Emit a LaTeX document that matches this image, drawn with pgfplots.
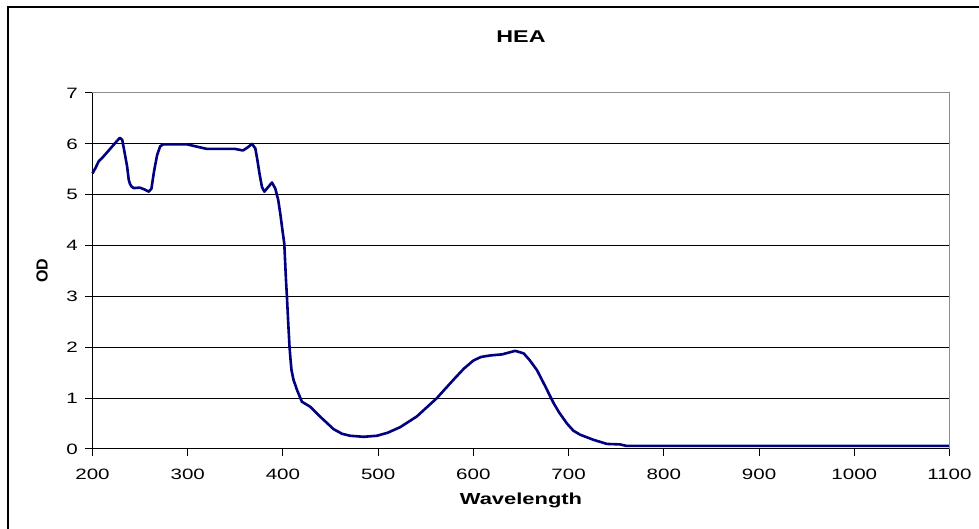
\documentclass[border=0pt]{standalone}
\usepackage{fontspec}
\setmainfont{Liberation Sans}[FakeStretch=1.37]
\newfontfamily\plainfont{Liberation Sans}
\usepackage{pgfplots}
\pgfplotsset{compat=1.18}
\usetikzlibrary{calc}
\definecolor{curve}{HTML}{000080}
\begin{document}
\begin{tikzpicture}
\begin{axis}[
  scale only axis, width=857pt, height=356pt,
  xmin=200, xmax=1100, ymin=0, ymax=7,
  xtick={200,300,...,1100}, ytick={0,1,...,7},
  axis x line*=bottom, axis y line*=left,
  axis line style={black, line width=1pt, -},
  tick align=outside, major tick length=7pt,
  tick style={black, line width=1pt},
  ymajorgrids, grid style={black, line width=1pt},
  /pgf/number format/assume math mode=true,
  /pgf/number format/1000 sep={},
  ticklabel style={font=\fontsize{15}{18}\selectfont},
  xticklabel style={anchor=north, inner sep=0pt, yshift=-13pt},
  yticklabel style={anchor=east, inner sep=0pt, xshift=-7.5pt},
  xlabel={Wavelength}, ylabel={OD}, title={HEA},
  xlabel style={at={(axis description cs:0.5,0)}, anchor=center, yshift=-51pt, font=\fontsize{16}{19}\selectfont\bfseries},
  ylabel style={at={(axis description cs:0,0.5)}, anchor=center, yshift=50.5pt, font=\plainfont\fontsize{16}{19}\selectfont\bfseries},
  title style={at={(axis description cs:0.5,1)}, anchor=center, yshift=50pt, font=\fontsize{17}{20}\selectfont\bfseries},
  clip=false,
]
\addplot[curve, line width=2.6pt, line join=round] coordinates {
(200,5.42) (203,5.52) (206.6,5.66) (210,5.72) (218.9,5.91) (224,6.02)
(228.7,6.12) (231.2,6.08) (234,5.8) (236.4,5.55) (238,5.3) (239.2,5.22)
(241,5.16) (243.4,5.13) (249.6,5.14) (255,5.10) (259.1,5.06) (261.9,5.12)
(264.3,5.42) (266,5.6) (267.9,5.78) (271,5.95) (274.1,5.99) (299.3,5.99)
(320.2,5.90) (350,5.90) (358,5.87) (363,5.93) (367.5,6.00) (371,5.91)
(373,5.7) (375.6,5.39) (378,5.15) (380.5,5.06) (384,5.14) (388.5,5.24)
(392,5.12) (395,4.9) (397.2,4.63) (399.5,4.3) (401.4,4.04) (402.5,3.6)
(403.2,3.32) (404.2,2.99) (405.5,2.5) (406.9,2.01) (408,1.75) (409,1.55)
(411.1,1.36) (415,1.15) (419.9,0.93) (428.7,0.83) (440,0.62) (453.2,0.39)
(462,0.30) (470.6,0.26) (484.6,0.24) (498.6,0.26) (510,0.32) (523.2,0.43)
(540.6,0.64) (561.6,1.00) (579,1.36) (590,1.58) (600,1.74) (608,1.81)
(617.9,1.84) (630,1.86) (644,1.93) (652.8,1.88) (659,1.75) (666.8,1.55)
(675,1.25) (684.3,0.90) (690,0.72) (698.3,0.50) (705,0.36) (712.2,0.28)
(726.2,0.18) (740.2,0.10) (754,0.09) (761,0.06) (1100,0.06)
};
\draw[gray!90, line width=1pt] (rel axis cs:0,1) -- (rel axis cs:1,1) -- (rel axis cs:1,0);
\end{axis}
\coordinate (O) at ($(current axis.south west)+(-92.5pt,-80pt)$);
\pgfresetboundingbox
\useasboundingbox (O) rectangle ++(979pt,529pt);
\draw[line width=2pt] ($(O)+(8pt,-2pt)$) -- ($(O)+(8pt,522pt)$) -- ($(O)+(981pt,522pt)$);
\end{tikzpicture}
\end{document}
